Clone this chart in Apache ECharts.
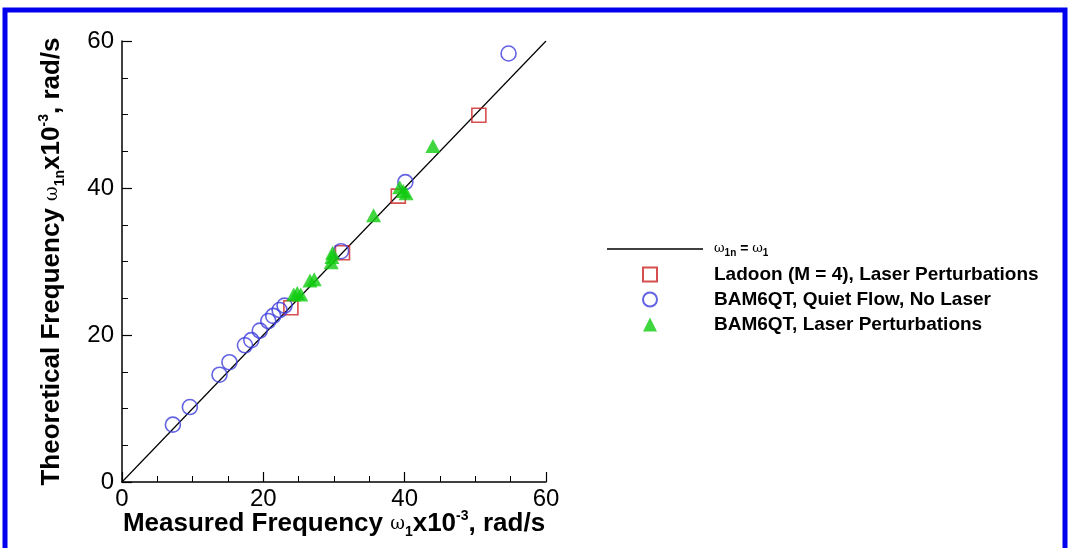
<!DOCTYPE html>
<html>
<head>
<meta charset="utf-8">
<script src="https://cdn.jsdelivr.net/npm/echarts@6/dist/echarts.min.js"></script>
<style>
html,body{margin:0;padding:0;background:#fff;}
#chart{width:1068px;height:548px;}
</style>
</head>
<body>
<div id="chart"></div>
<script>
// ---- data ----
const xTicks = [0, 20, 40, 60];
const yTicks = [0, 20, 40, 60];
const lineName = 'ω1n = ω1';
const lineData = [[0, 0], [60, 60]];

const ladoonName = 'Ladoon (M = 4), Laser Perturbations';
const ladoon = [[23.9, 23.7], [31.2, 31.2], [39.1, 38.9], [50.5, 49.9]];

const quietName = 'BAM6QT, Quiet Flow, No Laser';
const quiet = [
  [7.2, 7.8], [9.6, 10.2], [13.8, 14.6], [15.2, 16.3], [17.4, 18.6], [18.3, 19.3],
  [19.5, 20.6], [20.7, 21.9], [21.4, 22.6], [22.3, 23.4], [23.0, 24.0],
  [31.0, 31.4], [40.1, 40.8], [54.7, 58.3]
];

const laserName = 'BAM6QT, Laser Perturbations';
const laser = [
  [24.3, 25.5], [24.8, 25.7], [25.3, 25.5], [26.6, 27.4], [27.2, 27.6],
  [29.6, 29.9], [29.7, 30.6], [29.8, 31.2], [35.6, 36.3], [39.3, 40.1],
  [39.8, 39.6], [40.2, 39.3], [44.0, 45.7]
];

const chart = echarts.init(document.getElementById('chart'), null, {renderer: 'canvas'});

const titleRich = {
  b: {fontSize: 26, fontWeight: 'bold', fontFamily: 'Liberation Sans', color: '#000', lineHeight: 30},
  w: {fontSize: 18, fontWeight: 'normal', fontFamily: 'DejaVu Serif', color: '#000', lineHeight: 30},
  sub: {fontSize: 14, fontWeight: 'bold', fontFamily: 'Liberation Sans', color: '#000', verticalAlign: 'bottom', lineHeight: 14},
  sup: {fontSize: 14, fontWeight: 'bold', fontFamily: 'Liberation Sans', color: '#000', verticalAlign: 'top', lineHeight: 14}
};

const axisCommon = {
  type: 'value', min: 0, max: 60, interval: 20,
  axisLine: {show: true, lineStyle: {color: '#000', width: 1.5}},
  axisTick: {show: true, inside: true, length: 10, lineStyle: {color: '#000', width: 1.2}},
  minorTick: {show: true, splitNumber: 4, length: 6, lineStyle: {color: '#000', width: 1}},
  splitLine: {show: false},
  axisLabel: {fontSize: 24, color: '#000', fontFamily: 'Liberation Sans', margin: 5},
  nameLocation: 'middle',
  nameMoveOverlap: false
};

chart.setOption({
  animation: false,
  backgroundColor: '#fff',
  graphic: [{
    type: 'rect', silent: true, z: 100,
    shape: {x: 5, y: 10, width: 1060, height: 600},
    style: {fill: 'none', stroke: '#0000ee', lineWidth: 5}
  }],
  grid: {left: 122, top: 41, width: 424, height: 441},
  xAxis: Object.assign({}, axisCommon, {
    name: '{b|Measured Frequency }{w|ω}{sub|1}{b|x10}{sup|-3}{b|, rad/s}',
    nameGap: 27,
    nameTextStyle: {rich: titleRich},
    axisLabel: Object.assign({}, axisCommon.axisLabel, {
      formatter: v => xTicks.includes(v) ? String(v) : ''
    })
  }),
  yAxis: Object.assign({}, axisCommon, {
    name: '{b|Theoretical Frequency }{w|ω}{sub|1n}{b|x10}{sup|-3}{b|, rad/s}',
    nameGap: 55,
    nameRotate: 90,
    nameTextStyle: {rich: titleRich},
    axisLabel: Object.assign({}, axisCommon.axisLabel, {
      margin: 8,
      formatter: v => yTicks.includes(v) ? String(v) : ''
    })
  }),
  legend: [{
    data: [lineName],
    orient: 'vertical',
    left: 602, top: 237,
    icon: 'rect',
    itemWidth: 96, itemHeight: 1.5,
    formatter: () => '{g|}{w|ω}{s|1n}{t| = }{w|ω}{s|1}',
    textStyle: {
      rich: {
        g: {width: 6},
        w: {fontSize: 13, fontFamily: 'DejaVu Serif', color: '#000', lineHeight: 18},
        s: {fontSize: 10, fontWeight: 'bold', fontFamily: 'Liberation Sans', color: '#000', verticalAlign: 'bottom', lineHeight: 10},
        t: {fontSize: 14, fontWeight: 'bold', fontFamily: 'Liberation Sans', color: '#000', lineHeight: 18}
      }
    },
    selectedMode: false
  }, {
    data: [ladoonName, quietName, laserName],
    orient: 'vertical',
    left: 637, top: 260,
    itemWidth: 14, itemHeight: 14, itemGap: 6,
    formatter: name => '{g|}{t|' + name + '}',
    textStyle: {
      rich: {
        g: {width: 52},
        t: {fontSize: 19, fontWeight: 'bold', fontFamily: 'Liberation Sans', color: '#000', lineHeight: 20}
      }
    },
    selectedMode: false
  }],
  series: [{
    name: lineName, type: 'line', data: lineData,
    symbol: 'none', z: 1,
    lineStyle: {color: '#000', width: 1.2},
    itemStyle: {color: '#000'}
  }, {
    name: ladoonName, type: 'scatter', data: ladoon,
    symbol: 'rect', symbolSize: 14, z: 3,
    itemStyle: {color: 'rgba(0,0,0,0)', borderColor: '#cc2222', borderWidth: 1.6}
  }, {
    name: quietName, type: 'scatter', data: quiet,
    symbol: 'circle', symbolSize: 15, z: 4,
    itemStyle: {color: 'rgba(0,0,0,0)', borderColor: '#3c3cdc', borderWidth: 1.6}
  }, {
    name: laserName, type: 'scatter', data: laser,
    symbol: 'triangle', symbolSize: [15, 14], z: 5,
    itemStyle: {color: '#0fcc0f', borderWidth: 0}
  }]
});
</script>
</body>
</html>
